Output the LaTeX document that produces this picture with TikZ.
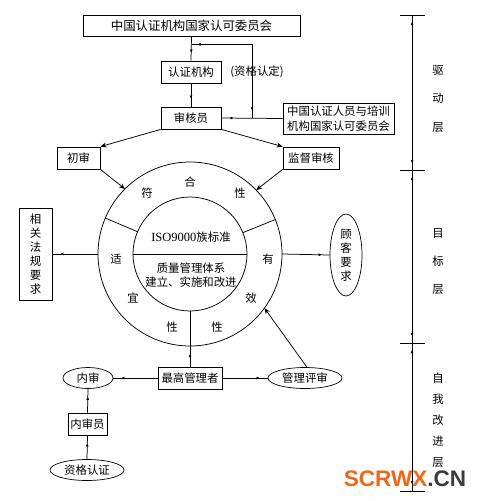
\documentclass[tikz,border=0pt]{standalone}
\usepackage{fontspec}
\setmainfont{Liberation Serif}
\newfontfamily\cjk{Noto Sans CJK SC}
\newfontfamily\wmfont{Liberation Sans}
\usetikzlibrary{arrows.meta,decorations.markings,shapes.geometric,calc}
\tikzset{
  cjkf/.style={font=\cjk\fontsize{11.4}{14}\selectfont},
  box/.style={draw,line width=0.8pt,inner sep=0pt,cjkf,minimum height=22pt,align=center},
  oval/.style={draw,ellipse,line width=0.7pt,inner sep=0pt,cjkf,minimum height=21pt,align=center},
  conn/.style={line width=0.75pt},
  midtip/.style={conn,postaction={decorate},decoration={markings,mark=at position -8pt with {\arrow{Latex[length=3pt,width=3pt]}}}},
  endtip/.style={conn,-{Stealth[length=6pt,width=5pt]}},
  bothtip/.style={conn,postaction={decorate},decoration={markings,
     mark=at position 7pt with {\arrowreversed{Latex[length=3pt,width=3pt]}},
     mark=at position -7pt with {\arrow{Latex[length=3pt,width=3pt]}}}},
  lbl/.style={cjkf,inner sep=0pt},
}
\begin{document}
\begin{tikzpicture}[x=1pt,y=-1pt]
\useasboundingbox (0,0) rectangle (480,501);
% top part
\node[box,minimum width=217pt,minimum height=21pt,font=\cjk\fontsize{12.4}{14}\selectfont] (top) at (191.5,25.5) {中国认证机构国家认可委员会};
\node[box,minimum width=60pt] (rzjg) at (191,72) {认证机构};
\node[box,minimum width=60pt] (shy) at (191,118) {审核员};
\node[box,minimum width=111pt,minimum height=31pt,font=\cjk\fontsize{11.4}{15}\selectfont] (peixun) at (338.5,118.5) {中国认证人员与培训\\机构国家认可委员会};
\node[lbl] (zgrd) at (257,72) {(资格认定)};
\node[box,minimum width=43pt] (chushen) at (78.5,158) {初审};
\node[box,minimum width=56pt] (jiandu) at (311,158) {监督审核};

\draw[midtip] (top.south) -- (rzjg.north);
\draw[midtip] (rzjg.south) -- (shy.north);
\draw[midtip] (peixun.west) -- (shy.east);
\path (shy.east) -- (peixun.west) coordinate[pos=0.5] (J);
\coordinate (L) at ($(top.south)+(0,8)$);
\coordinate (K) at (L -| J);
\draw[conn,postaction={decorate},decoration={markings,
   mark=at position 6pt with {\arrowreversed{Latex[length=3pt,width=3pt]}},
   mark=at position -8pt with {\arrow{Latex[length=3pt,width=3pt]}}}] (L) -- (K) -- (J);
\draw[endtip] (shy.south west) -- (chushen.north east);
\draw[endtip] (shy.south east) -- (jiandu.north west);

% circles
\coordinate (c) at (190,254);
\draw[conn] (c) circle[radius=92pt];
\draw[conn] (c) circle[radius=57pt];
\draw[conn] ($(c)+(180:57pt)$) -- ($(c)+(0:57pt)$);
\draw[conn] ($(c)+(157:57pt)$) -- ($(c)+(157:92pt)$);
\draw[conn] ($(c)+(22:57pt)$) -- ($(c)+(22:92pt)$);
\draw[conn] ($(c)+(-90:57pt)$) -- ($(c)+(-90:92pt)$);
\draw[endtip] (chushen.south east) -- ($(c)+(135:92pt)$);
\draw[endtip] (jiandu.south west) -- ($(c)+(44:92pt)$);

\node[lbl] (r1) at (190,182) {合};
\node[lbl] (r2) at (147,193) {符};
\node[lbl] (r3) at (240,193) {性};
\node[lbl] (r4) at (116,259) {适};
\node[lbl] (r5) at (268,259) {有};
\node[lbl] (r6) at (133,298) {宜};
\node[lbl] (r7) at (251,298) {效};
\node[lbl] (r8) at (172,327) {性};
\node[lbl] (r9) at (217,327) {性};
\node[inner sep=0pt,font=\fontsize{12.5}{14}\selectfont] (iso) at (191,237) {ISO9000{\cjk\fontsize{11.4}{14}\selectfont 族标准}};
\node[lbl] (q1) at (191,268) {质量管理体系};
\node[lbl] (q2) at (191,282) {建立、实施和改进};

% side nodes
\node[box,minimum width=33pt,minimum height=92pt] (law) at (35.5,254) {相\\关\\法\\规\\要\\求};
\node[oval,minimum width=32pt,minimum height=82pt] (cust) at (346,255) {顾\\客\\要\\求};
\draw[midtip] ($(c)+(180:92pt)$) -- (law.east);
\draw[midtip] ($(c)+(0:92pt)$) -- (cust.west);

% bottom part
\node[box,minimum width=64pt] (zg) at (190,378) {最高管理者};
\node[oval,minimum width=50pt] (ns) at (88,378) {内审};
\node[oval,minimum width=74pt] (ps) at (305,378) {管理评审};
\node[box,minimum width=39pt] (nsy) at (87.5,424) {内审员};
\node[oval,minimum width=74pt] (zgrz) at (87,470) {资格认证};
\draw[midtip] (zg.north) -- ($(c)+(-90:92pt)$);
\draw[midtip] (zg.west) -- (ns.east);
\draw[midtip] (zg.east) -- (ps.west);
\draw[endtip] (ps.80) -- ($(c)+(-36:92pt)$);
\draw[midtip] (nsy.north) -- (ns.south);
\draw[midtip] (zgrz.north) -- (nsy.south);

% scale
\coordinate (s1) at (412,15);
\coordinate (s2) at (412,170);
\coordinate (s3) at (412,343);
\coordinate (s4) at (412,491);
\foreach \s in {s1,s2,s3,s4} \draw[conn] ($(\s)+(-12,0)$) -- ($(\s)+(13,0)$);
\draw[bothtip] (s1) -- (s2);
\draw[bothtip] (s2) -- (s3);
\draw[bothtip] (s3) -- (s4);
\node[lbl,align=center,font=\cjk\fontsize{11.4}{28.5}\selectfont] (l1) at (438,98.5) {驱\\动\\层};
\node[lbl,align=center,font=\cjk\fontsize{11.4}{28}\selectfont] (l2) at (438,262) {目\\标\\层};
\node[lbl,align=center,font=\cjk\fontsize{11.4}{21}\selectfont] (l3) at (438,420) {自\\我\\改\\进\\层};

% watermark
\node[inner sep=0pt,font=\wmfont\bfseries\fontsize{22.5}{24}\selectfont] (wm) at (405,479) {\textcolor[RGB]{242,102,26}{SCRWX}\textcolor[RGB]{60,60,60}{.CN}};
\end{tikzpicture}
\end{document}
